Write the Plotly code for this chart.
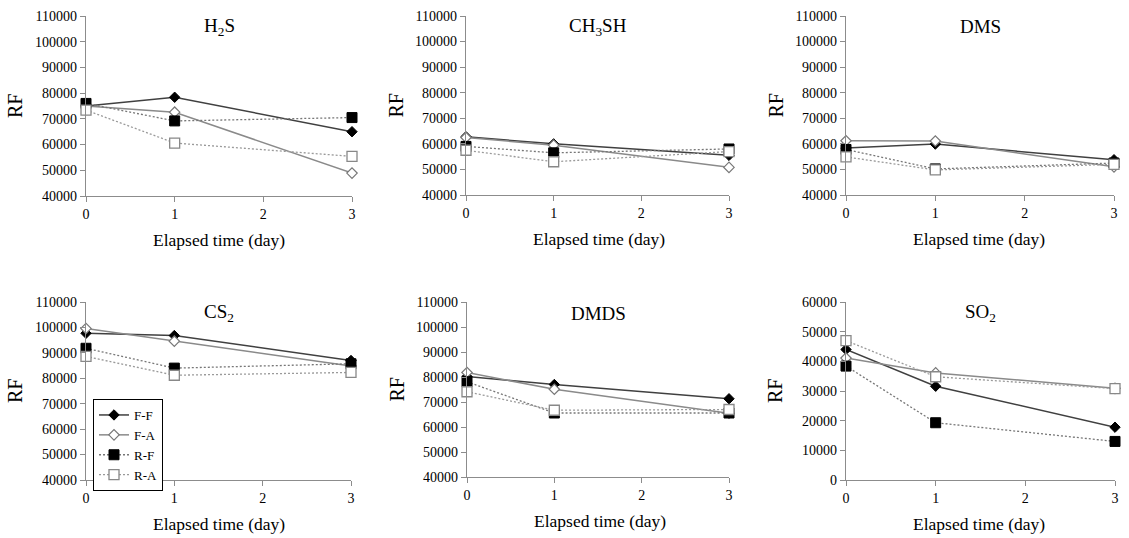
import plotly.graph_objects as go

W, H = 1129, 538
days = [0, 1, 3]
series_names = ["F-F", "F-A", "R-F", "R-A"]

titles = ["H<sub>2</sub>S", "CH<sub>3</sub>SH", "DMS", "CS<sub>2</sub>", "DMDS", "SO<sub>2</sub>"]

h2s_ff = [75000, 78400, 65000]
h2s_fa = [75000, 72600, 48900]
h2s_rf = [76000, 69200, 70500]
h2s_ra = [73400, 60600, 55400]

ch3sh_ff = [62800, 60000, 55500]
ch3sh_fa = [62500, 59500, 50800]
ch3sh_rf = [59000, 56500, 58000]
ch3sh_ra = [57500, 53000, 57000]

dms_ff = [58400, 59900, 53800]
dms_fa = [61200, 61100, 51000]
dms_rf = [57800, 50200, 52500]
dms_ra = [54900, 49800, 52000]

cs2_ff = [97700, 96800, 87000]
cs2_fa = [99600, 94600, 84800]
cs2_rf = [91800, 84000, 85700]
cs2_ra = [88600, 81200, 82300]

dmds_ff = [80200, 77000, 71300]
dmds_fa = [81800, 75100, 65500]
dmds_rf = [78100, 65600, 65600]
dmds_ra = [74100, 66700, 67000]

so2_ff = [44000, 31600, 17800]
so2_fa = [41100, 36100, 30900]
so2_rf = [38400, 19300, 13000]
so2_ra = [47000, 34800, 30800]

panels = [
    (h2s_ff, h2s_fa, h2s_rf, h2s_ra),
    (ch3sh_ff, ch3sh_fa, ch3sh_rf, ch3sh_ra),
    (dms_ff, dms_fa, dms_rf, dms_ra),
    (cs2_ff, cs2_fa, cs2_rf, cs2_ra),
    (dmds_ff, dmds_fa, dmds_rf, dmds_ra),
    (so2_ff, so2_fa, so2_rf, so2_ra),
]
y_ranges = [[40000, 110000]] * 5 + [[0, 60000]]
y_dticks = [10000] * 6

# plot areas in pixels (x0, x1, ytop, ybottom)
boxes = [
    (86, 352, 16, 196),
    (466, 729, 16, 195),
    (846, 1114, 16, 195),
    (86, 351, 302, 480),
    (467, 729, 302, 477),
    (846, 1115, 302, 480),
]

def px(x):
    return x / W

def py(y):
    return 1 - y / H

styles = [
    dict(line=dict(color="#404040", width=1.5),
         marker=dict(symbol="diamond", size=8, color="black", line=dict(color="black", width=1))),
    dict(line=dict(color="#8a8a8a", width=1.5),
         marker=dict(symbol="diamond", size=8, color="white", line=dict(color="#777777", width=1.2))),
    dict(line=dict(color="#777777", width=1.3, dash="2px,2px"),
         marker=dict(symbol="square", size=10, color="black", line=dict(color="black", width=1))),
    dict(line=dict(color="#9a9a9a", width=1.3, dash="2px,2px"),
         marker=dict(symbol="square", size=10, color="white", line=dict(color="#888888", width=1.3))),
]

FONT = "Liberation Serif, Times New Roman, serif"

fig = go.Figure()
annotations = []
layout_axes = {}

for i, (box, data) in enumerate(zip(boxes, panels)):
    n = i + 1
    xa = "x" if n == 1 else f"x{n}"
    ya = "y" if n == 1 else f"y{n}"
    x0, x1, yt, yb = box
    for k, (name, vals) in enumerate(zip(series_names, data)):
        fig.add_trace(go.Scatter(
            x=days, y=vals, name=name, mode="lines+markers",
            xaxis=xa, yaxis=ya, cliponaxis=False,
            showlegend=(i == 3),
            line=styles[k]["line"], marker=styles[k]["marker"],
        ))
    axis_common = dict(showgrid=False, zeroline=False, showline=True, automargin=False,
                       linecolor="#8c8c8c", linewidth=1.3, ticks="outside",
                       tickcolor="#8c8c8c", ticklen=5,
                       tickfont=dict(family=FONT, size=14, color="black"))
    layout_axes["xaxis" if n == 1 else f"xaxis{n}"] = dict(
        domain=[px(x0), px(x1)], range=[0, 3], tickvals=[0, 1, 2, 3],
        anchor=ya, **axis_common)
    layout_axes["yaxis" if n == 1 else f"yaxis{n}"] = dict(
        domain=[py(yb), py(yt)], range=y_ranges[i], dtick=y_dticks[i],
        tickformat="d", anchor=xa, **axis_common)
    # title
    cx = (x0 + x1) / 2
    annotations.append(dict(text=titles[i], x=px(cx), y=py(yt + 11), xref="paper", yref="paper",
                            showarrow=False, xanchor="center", yanchor="middle",
                            font=dict(family=FONT, size=19, color="black")))
    # x title
    annotations.append(dict(text="Elapsed time (day)", x=px(x0 + 133), y=py(yb + 44),
                            xref="paper", yref="paper", showarrow=False,
                            xanchor="center", yanchor="middle",
                            font=dict(family=FONT, size=17.5, color="black")))
    # y title
    annotations.append(dict(text="RF", x=px(x0 - 71), y=py((yt + yb) / 2), xref="paper", yref="paper",
                            showarrow=False, textangle=-90, xanchor="center", yanchor="middle",
                            font=dict(family=FONT, size=20, color="black")))

fig.update_layout(
    width=W, height=H,
    template="none",
    margin=dict(l=0, r=0, t=0, b=0, pad=0),
    paper_bgcolor="white", plot_bgcolor="white",
    font=dict(family=FONT, size=14, color="black"),
    annotations=annotations,
    legend=dict(x=px(93), y=py(399), xanchor="left", yanchor="top",
                bordercolor="black", borderwidth=1, bgcolor="white",
                font=dict(family=FONT, size=13, color="black"),
                tracegroupgap=0, itemwidth=30),
    **layout_axes,
)

fig.write_html("out.html", config={"displayModeBar": False},
               post_script="document.body.style.margin='0';")
